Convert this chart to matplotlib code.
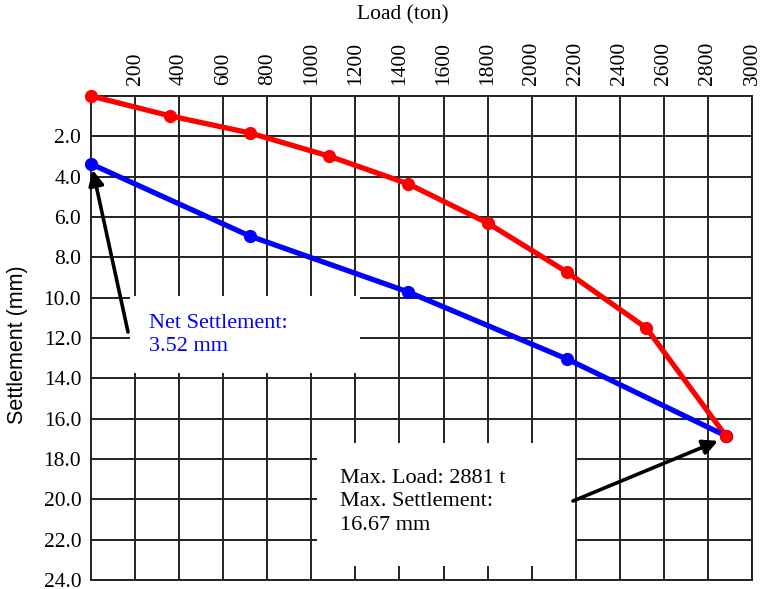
import matplotlib
matplotlib.use("Agg")
import matplotlib.pyplot as plt
from matplotlib.patches import Rectangle

loads_total = [0, 360, 720, 1080, 1440, 1800, 2160, 2520, 2881]
settle_total = [0.0, 0.99, 1.83, 2.98, 4.36, 6.30, 8.73, 11.5, 16.85]
loads_net = [0, 720, 1440, 2160, 2881]
settle_net = [3.37, 6.94, 9.72, 13.04, 16.85]
xticks = list(range(200, 3001, 200))
yticks = [2, 4, 6, 8, 10, 12, 14, 16, 18, 20, 22, 24]

serif = ["Liberation Serif", "DejaVu Serif"]

W, H = 762, 589
L, R, T, B = 91, 752, 96, 580
def fx(px):
    return (px - L) / (R - L)
def fy(py):
    return 1 - (py - T) / (B - T)

fig = plt.figure(figsize=(W/100, H/100), dpi=100)
ax = fig.add_axes([L/W, 1-B/H, (R-L)/W, (B-T)/H])
ax.set_xlim(0, 3000)
ax.set_ylim(24, 0)
ax.xaxis.tick_top()
ax.set_xticks(xticks)
ax.set_xticklabels([str(v) for v in xticks], rotation=90, family=serif, fontsize=15.5)
ax.set_yticks(yticks)
ax.set_yticklabels([f"{v:.1f}" for v in yticks], family=serif, fontsize=15.5)
ax.tick_params(axis="y", length=0, pad=7)
ax.tick_params(axis="x", length=0, pad=8)
ax.set_axisbelow(True)
ax.grid(True, color="#222222", linewidth=1.4)
for s in ax.spines.values():
    s.set_color("#222222")
    s.set_linewidth(1.4)

fig.text(403/W, 1-15/H, "Load (ton)", family=serif, fontsize=15.5, ha="center", va="center")
fig.text(18/W, 1-345/H, "Settlement (mm)", family=["Liberation Sans", "DejaVu Sans"], fontsize=15.5,
         ha="center", va="center", rotation=90)

# white boxes behind annotations
ax.add_patch(Rectangle((fx(130), fy(373)), fx(360) - fx(130), fy(296) - fy(373),
                       transform=ax.transAxes, facecolor="white", edgecolor="none", zorder=1))
ax.add_patch(Rectangle((fx(317), fy(566)), fx(575) - fx(317), fy(443) - fy(566),
                       transform=ax.transAxes, facecolor="white", edgecolor="none", zorder=1))

ax.plot(loads_total, settle_total, color="#ff0000", linewidth=3.8, marker="o", markersize=8.5, zorder=3, clip_on=False)
ax.plot(loads_net, settle_net, color="#0000ff", linewidth=3.8, marker="o", markersize=8.5, zorder=3, clip_on=False)
ax.plot(loads_total[-1:], settle_total[-1:], color="#ff0000", marker="o", markersize=8.5, zorder=4, clip_on=False)

arrow = dict(arrowstyle="-|>,head_length=0.9,head_width=0.45", color="black", lw=2.6, shrinkA=0, shrinkB=0)
ax.annotate("", xy=(loads_net[0] + 8, settle_net[0] + 0.3), xytext=(fx(128), fy(332)),
            xycoords="data", textcoords="axes fraction", arrowprops=arrow, zorder=5)
ax.text(fx(149), fy(335), "Net Settlement:\n3.52 mm", transform=ax.transAxes,
        family=serif, fontsize=16, color="#0000ff", va="center", ha="left", linespacing=1.33, zorder=5)

ax.annotate("", xy=(loads_total[-1] - 35, settle_total[-1] + 0.25), xytext=(fx(573), fy(501)),
            xycoords="data", textcoords="axes fraction", arrowprops=arrow, zorder=5)
ax.text(fx(340), fy(502), "Max. Load: 2881 t\nMax. Settlement:\n16.67 mm", transform=ax.transAxes,
        family=serif, fontsize=16, color="black", va="center", ha="left", linespacing=1.33, zorder=5)

fig.savefig("out.png", dpi=100)
